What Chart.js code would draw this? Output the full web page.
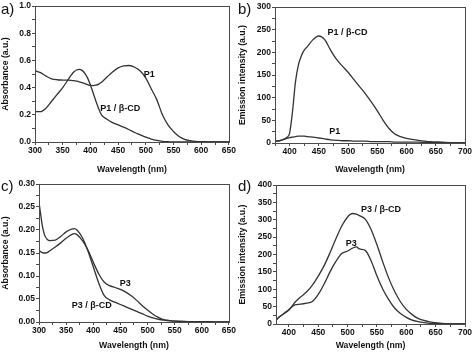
<!DOCTYPE html>
<html>
<head>
<meta charset="utf-8">
<script src="https://cdn.jsdelivr.net/npm/chart.js@4.4.0/dist/chart.umd.min.js"></script>
<style>
  body { margin: 0; background: #fff; }
  #wrap { position: relative; width: 474px; height: 354px; overflow: hidden; font-family: "Liberation Sans", Arial, sans-serif; }
  canvas { position: absolute; }
  .tag { position: absolute; font-size: 15px; color: #111; line-height: 1; }
</style>
</head>
<body>
<div id="wrap">
  <canvas id="ca" width="237" height="177" style="left:0;top:0"></canvas>
  <canvas id="cb" width="237" height="177" style="left:237px;top:0"></canvas>
  <canvas id="cc" width="237" height="177" style="left:0;top:177px"></canvas>
  <canvas id="cd" width="237" height="177" style="left:237px;top:177px"></canvas>
  <div class="tag" style="left:1px;top:1px">a)</div>
  <div class="tag" style="left:238px;top:1px">b)</div>
  <div class="tag" style="left:1px;top:178px">c)</div>
  <div class="tag" style="left:238px;top:178px">d)</div>
</div>
<script>
// a) absorption P1
const wlA = [300,310,320,330,340,350,360,365,370,375,380,385,390,395,400,405,410,415,420,430,440,450,460,470,480,490,500,510,520,530,540,550,560,570,580,590,600,625,650];
const absP1 = [0.525,0.51,0.485,0.465,0.458,0.456,0.455,0.454,0.452,0.448,0.443,0.437,0.43,0.422,0.416,0.415,0.418,0.426,0.44,0.478,0.515,0.545,0.56,0.563,0.55,0.522,0.47,0.39,0.31,0.2,0.126,0.077,0.04,0.02,0.01,0.004,0.002,0,0];
const absP1CD = [0.223,0.223,0.25,0.3,0.35,0.4,0.46,0.49,0.515,0.53,0.535,0.527,0.505,0.47,0.42,0.36,0.3,0.245,0.2,0.167,0.143,0.126,0.109,0.09,0.07,0.053,0.036,0.022,0.012,0.005,0.002,0,0,0,0,0,0,0,0];

// b) emission P1
const wlB = [375,385,395,400,405,410,415,420,425,430,440,450,460,470,480,490,500,510,520,530,540,550,560,570,580,590,600,620,640,660,680,700];
const emP1CD = [4,6,12,22,70,135,172,192,205,212,228,236,228,205,185,170,156,140,124,108,90,71,50,32,20,14,10,6,3,2,1,1];
const emP1 = [3,6,10,12,13,14,15,15,15,14,13,11,9,7,6,5,5,4,4,4,3,3,3,3,2,2,2,2,1,1,1,1];

// c) absorption P3
const wlC = [300,303,306,310,315,320,330,340,350,360,365,370,380,390,400,410,420,430,440,450,460,470,480,490,500,510,520,530,540,550,575,600,625,650];
const absP3CD = [0.26,0.235,0.21,0.19,0.18,0.177,0.178,0.186,0.196,0.202,0.203,0.2,0.183,0.155,0.12,0.085,0.058,0.048,0.043,0.038,0.033,0.028,0.023,0.018,0.013,0.009,0.006,0.004,0.003,0.002,0.001,0.001,0,0];
const absP3 = [0.155,0.153,0.151,0.15,0.151,0.155,0.163,0.172,0.182,0.19,0.192,0.19,0.177,0.157,0.13,0.105,0.087,0.079,0.075,0.071,0.065,0.057,0.047,0.036,0.026,0.017,0.01,0.005,0.003,0.002,0.001,0.001,0,0];

// d) emission P3
const wlD = [378,385,390,400,410,420,430,440,450,460,470,480,490,500,508,515,520,530,540,550,560,570,580,590,600,610,620,640,660,680,700];
const emP3CD = [12,22,28,40,62,78,92,112,138,168,205,245,282,308,318,316,312,302,272,228,178,132,94,64,42,27,16,6,2,0.5,0];
const emP3 = [12,22,28,42,55,57,60,65,85,115,150,180,203,210,218,222,216,212,182,138,100,70,46,30,19,11,7,2,0.5,0,0];

const lineColor = '#333';
const axisColor = '#4a4a4a';
const fontFam = '"Liberation Sans", Arial, sans-serif';

function pts(xs, ys) {
    return xs.map((x, i) => ({ x: x, y: ys[i] }));
}

function range(a, b, step) {
    const out = [];
    for (let v = a; v <= b + 1e-9; v += step) out.push({ value: +v.toFixed(4) });
    return out;
}

// frame round the plot + curve labels
const framePlugin = {
    id: 'frame',
    afterDraw(chart, args, opts) {
        const { ctx, chartArea: ca, scales } = chart;
        ctx.save();
        ctx.strokeStyle = axisColor;
        ctx.lineWidth = 1;
        ctx.strokeRect(Math.round(ca.left) + 0.5, Math.round(ca.top) + 0.5, Math.round(ca.right - ca.left), Math.round(ca.bottom - ca.top));
        ctx.fillStyle = '#111';
        ctx.font = 'bold 9px ' + fontFam;
        ctx.textAlign = 'center';
        ctx.textBaseline = 'middle';
        (opts.labels || []).forEach(l => {
            ctx.fillText(l.text, scales.x.getPixelForValue(l.x), scales.y.getPixelForValue(l.y));
        });
        ctx.restore();
    }
};

function makeChart(id, cfg) {
    const ds = cfg.series.map(s => ({
        data: pts(cfg.wl, s),
        borderColor: lineColor,
        borderWidth: 1.3,
        pointRadius: 0,
        tension: 0.4,
        cubicInterpolationMode: 'monotone'
    }));
    const tickFont = { family: fontFam, size: 8.5, weight: 'bold' };
    const titleFont = { family: fontFam, size: 8.7, weight: 'bold' };
    const grid = { display: true, drawOnChartArea: false, drawTicks: true, tickLength: 3, color: axisColor };
    return new Chart(document.getElementById(id), {
        type: 'line',
        data: { datasets: ds },
        plugins: [framePlugin],
        options: {
            responsive: false,
            animation: false,
            devicePixelRatio: 1,
            layout: { padding: cfg.pad },
            plugins: {
                legend: { display: false },
                tooltip: { enabled: false },
                frame: { labels: cfg.labels }
            },
            scales: {
                x: {
                    type: 'linear',
                    min: cfg.xMin, max: cfg.xMax,
                    grid: grid,
                    border: { display: true, color: axisColor },
                    afterBuildTicks: s => { s.ticks = range(cfg.xTick0, cfg.xMax, 25); },
                    afterFit: s => { s.height = cfg.xH; },
                    ticks: {
                        font: tickFont, color: '#111', padding: 1, maxRotation: 0, autoSkip: false,
                        callback: v => (v % 50 === 0 ? String(v) : '')
                    },
                    title: { display: true, text: 'Wavelength (nm)', font: titleFont, color: '#111', padding: 0 }
                },
                y: {
                    type: 'linear',
                    min: 0, max: cfg.yMax,
                    grid: grid,
                    border: { display: true, color: axisColor },
                    afterBuildTicks: s => { s.ticks = range(0, cfg.yMax, cfg.yStep / 2); },
                    afterFit: s => { s.width = cfg.yW; },
                    ticks: {
                        font: tickFont, color: '#111', padding: 1, autoSkip: false,
                        callback: (v, i) => (i % 2 === 0 ? v.toFixed(cfg.dec) : '')
                    },
                    title: { display: true, text: cfg.yTitle, font: titleFont, color: '#111', padding: 0 }
                }
            }
        }
    });
}

makeChart('ca', {
    wl: wlA, series: [absP1, absP1CD],
    xMin: 300, xMax: 650, xTick0: 300, yMax: 1.0, yStep: 0.2, dec: 1,
    yTitle: 'Absorbance (a.u.)', yW: 35, xH: 33,
    pad: { left: 0, top: 5, right: 8, bottom: 2 },
    labels: [{ text: 'P1', x: 506, y: 0.5 }, { text: 'P1 / β-CD', x: 454, y: 0.247 }]
});

makeChart('cb', {
    wl: wlB, series: [emP1CD, emP1],
    xMin: 375, xMax: 700, xTick0: 375, yMax: 300, yStep: 50, dec: 0,
    yTitle: 'Emission intensity (a.u.)', yW: 38, xH: 32,
    pad: { left: 0, top: 7, right: 9, bottom: 2 },
    labels: [{ text: 'P1 / β-CD', x: 499, y: 243 }, { text: 'P1', x: 477, y: 25 }]
});

makeChart('cc', {
    wl: wlC, series: [absP3CD, absP3],
    xMin: 300, xMax: 650, xTick0: 300, yMax: 0.30, yStep: 0.05, dec: 2,
    yTitle: 'Absorbance (a.u.)', yW: 39, xH: 29,
    pad: { left: 0, top: 7, right: 8, bottom: 3 },
    labels: [{ text: 'P3', x: 459, y: 0.0835 }, { text: 'P3 / β-CD', x: 397, y: 0.036 }]
});

makeChart('cd', {
    wl: wlD, series: [emP3CD, emP3],
    xMin: 378, xMax: 700, xTick0: 400, yMax: 400, yStep: 50, dec: 0,
    yTitle: 'Emission intensity (a.u.)', yW: 39, xH: 27,
    pad: { left: 0, top: 8, right: 9, bottom: 3 },
    labels: [{ text: 'P3 / β-CD', x: 557, y: 330 }, { text: 'P3', x: 506, y: 233 }]
});
</script>
</body>
</html>
